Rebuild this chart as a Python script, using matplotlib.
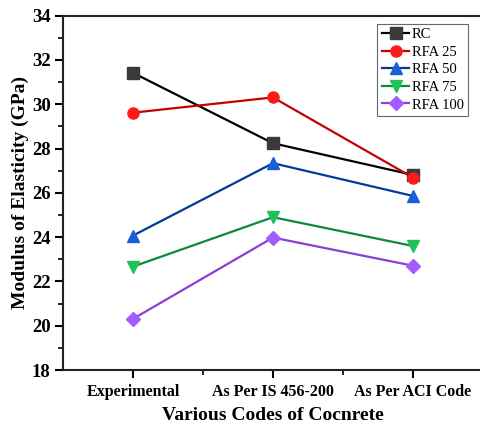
import matplotlib
matplotlib.use("Agg")
import matplotlib.pyplot as plt
from matplotlib.ticker import MultipleLocator, FixedLocator

plt.rcParams['font.family'] = ['Liberation Serif', 'DejaVu Serif']

codes = ['Experimental', 'As Per IS 456-200', 'As Per ACI Code']
rc = [31.42, 28.24, 26.81]
rfa25 = [29.62, 30.31, 26.69]
rfa50 = [24.07, 27.34, 25.86]
rfa75 = [22.67, 24.90, 23.60]
rfa100 = [20.31, 23.98, 22.71]

series = [
    ('RC', rc, 's', '#000000', '#3a3a3a'),
    ('RFA 25', rfa25, 'o', '#c40000', '#ff1a1a'),
    ('RFA 50', rfa50, '^', '#003a9a', '#1a5fd6'),
    ('RFA 75', rfa75, 'v', '#0b8a3e', '#1fc25a'),
    ('RFA 100', rfa100, 'D', '#8a3fd6', '#a35cff'),
]

fig = plt.figure(figsize=(4.81, 4.30), dpi=100)
ax = fig.add_axes([0.131, 0.1395, 0.873, 0.824])

x = list(range(len(codes)))
for name, vals, mk, lc, fc in series:
    ms = 8 if mk != 'D' else 7
    ax.plot(x, vals, color=lc, lw=1.6, marker=mk, markersize=ms,
            markerfacecolor=fc, markeredgecolor=fc, label=name)

ax.set_xlim(-0.5, 2.5)
ax.set_ylim(18, 34)
ax.set_xticks(x)
ax.set_xticklabels(codes, fontsize=11.5, fontweight='bold')
ax.xaxis.set_minor_locator(FixedLocator([0.5, 1.5]))
ax.yaxis.set_major_locator(MultipleLocator(2))
ax.yaxis.set_minor_locator(MultipleLocator(1))
for lbl in ax.get_yticklabels():
    lbl.set_fontsize(13.5)
    lbl.set_fontweight('bold')

ax.tick_params(which='major', direction='out', length=6, width=1.5)
ax.tick_params(axis='y', which='major', pad=3)
ax.tick_params(axis='x', which='major', pad=4)
ax.tick_params(which='minor', direction='out', length=3.5, width=1.2)
ax.tick_params(top=False, right=False)
for s in ax.spines.values():
    s.set_linewidth(1.5)
    s.set_color('#222222')
ax.spines['right'].set_visible(False)

ax.set_xlabel('Various Codes of Cocnrete', fontsize=14, fontweight='bold', labelpad=5)
ax.set_ylabel('Modulus of Elasticity (GPa)', fontsize=14, fontweight='bold', labelpad=2)

leg = ax.legend(loc='upper right', bbox_to_anchor=(0.975, 0.99), fontsize=10.5,
                frameon=True, fancybox=False, edgecolor='#444444',
                handlelength=1.9, handletextpad=0.15, borderpad=0.3,
                labelspacing=0.3, borderaxespad=0.3)
leg.get_frame().set_linewidth(0.8)

fig.savefig('out.png', dpi=100)
